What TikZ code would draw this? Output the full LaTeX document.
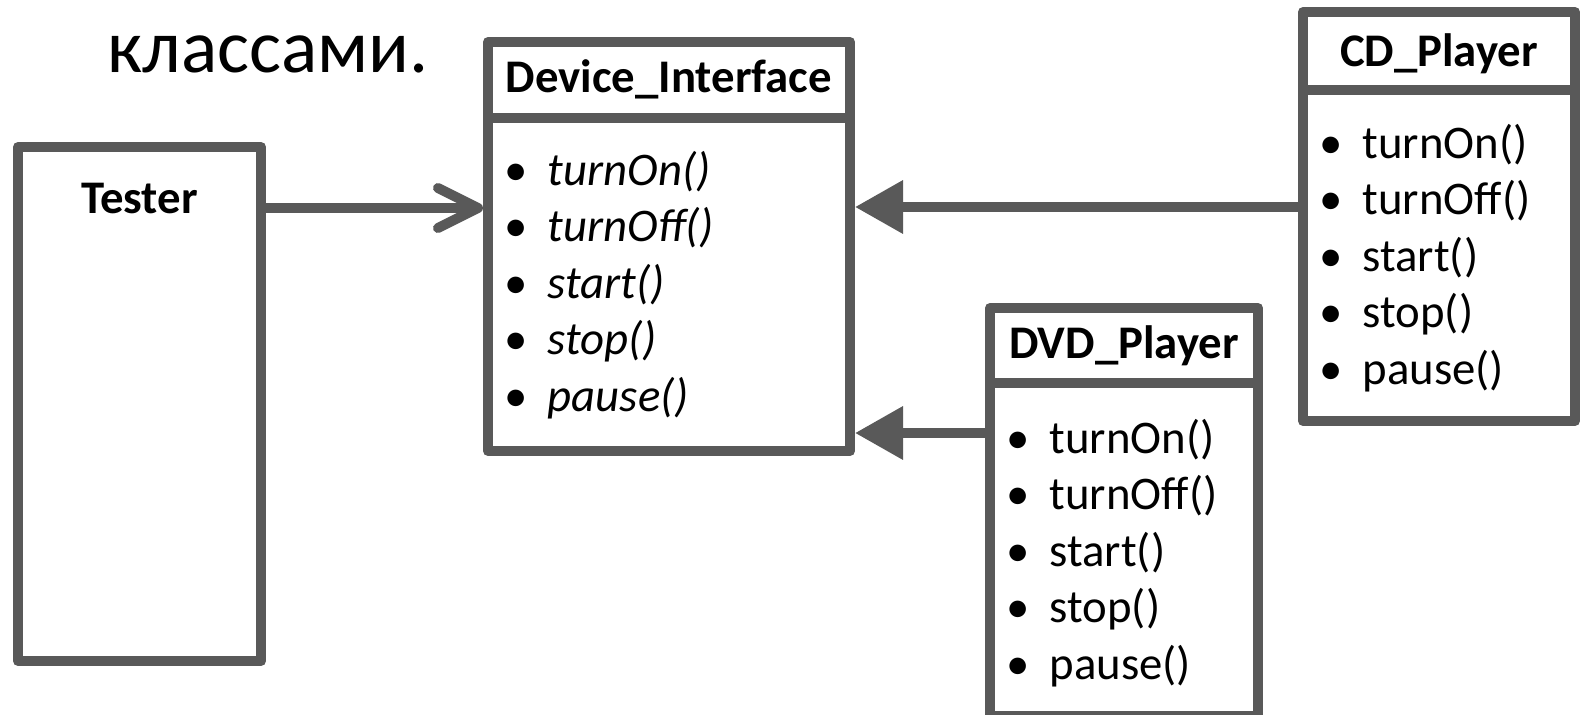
\documentclass[tikz,border=0pt]{standalone}
\usepackage{fontspec}
\setmainfont{Carlito}
\usepackage{tikz}
\usetikzlibrary{arrows.meta,fit}
\definecolor{frame}{HTML}{595959}
\tikzset{
  umlbox/.style={draw=frame, line width=0.1cm, line join=round, inner sep=0pt, fill=white},
  sep/.style={draw=frame, line width=0.1cm},
  uses/.style={draw=frame, line width=0.1cm, line cap=round,
    -{Straight Barb[length=0.4cm,width=0.4cm,line cap=round,line join=round]}},
  gen/.style={draw=frame, line width=0.1cm, -{Triangle[length=0.48cm,width=0.51cm]}},
  cname/.style={font=\fontsize{13.3}{16}\selectfont\bfseries, anchor=base, inner sep=0pt},
  dot/.style={font=\fontsize{13.3}{16}\selectfont, anchor=base, inner sep=0pt},
  item/.style={font=\fontsize{13.3}{16}\selectfont, anchor=base west, inner sep=0pt},
  opitem/.style={item, font=\fontsize{13.3}{16}\selectfont\itshape},
}
\begin{document}
\begin{tikzpicture}[x=0.01cm,y=-0.01cm]
  \useasboundingbox[fill=white] (0,0) rectangle (1581,715);
  \clip (0,0) rectangle (1581,715);
  \node[anchor=base west, inner sep=0pt, font=\fontsize{21.5}{26}\selectfont] (slidetext) at (107,72) {классами.};
  % classes
  \node[umlbox, fit={(18,147) (261,661)}] (tester) {};
  \node[umlbox, fit={(488,42) (850,451)}] (dev) {};
  \node[umlbox, fit={(1303,12) (1575,421)}] (cd) {};
  \node[umlbox, fit={(990,308) (1258,716)}] (dvd) {};
  \draw[sep] (dev.west |- 0,118) -- (dev.east |- 0,118);
  \draw[sep] (cd.west |- 0,90) -- (cd.east |- 0,90);
  \draw[sep] (dvd.west |- 0,383) -- (dvd.east |- 0,383);
  \node[cname] (tester-t) at (tester.north |- 0,213) {Tester};
  \node[cname] (dev-t) at (dev.north |- 0,93) {Device\_Interface};
  \node[cname] (cd-t) at (cd.north |- 0,66) {CD\_Player};
  \node[cname] (dvd-t) at (dvd.north |- 0,358) {DVD\_Player};
  \foreach \cls/\cx/\by/\st in {dev/488/185/opitem, cd/1303/158/item, dvd/990/453/item}
    \foreach \m [count=\i] in {turnOn(),turnOff(),start(),stop(),pause()} {
      \node[dot] (\cls-b\i) at ({\cx+28},{\by+56.5*(\i-1)}) {•};
      \node[\st] (\cls-\i) at ({\cx+59},{\by+56.5*(\i-1)}) {\m};
    }
  % relations
  \draw[uses] (tester.east |- 0,208) -- (dev.west |- 0,208);
  \draw[gen] (cd.west |- 0,207) -- (dev.east |- 0,207);
  \draw[gen] (dvd.west |- 0,433) -- (dev.east |- 0,433);
\end{tikzpicture}
\end{document}
